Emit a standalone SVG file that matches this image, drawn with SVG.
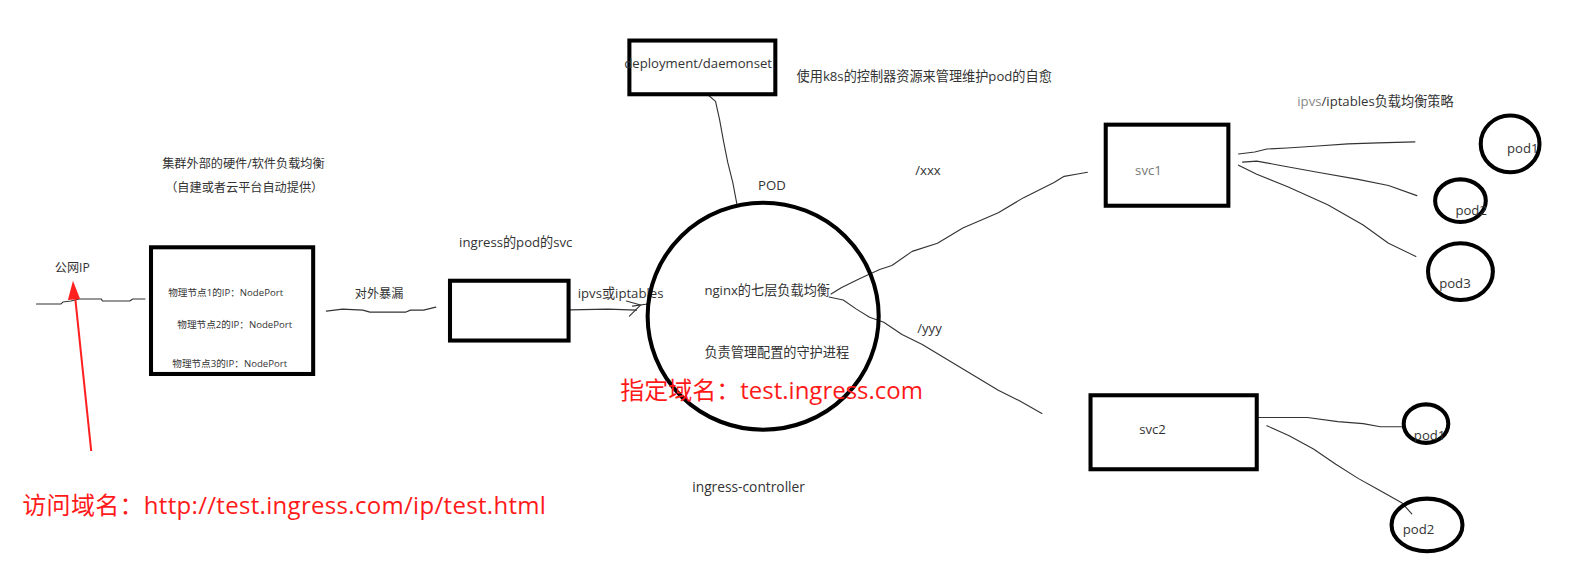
<svg xmlns="http://www.w3.org/2000/svg" width="1587" height="583" viewBox="0 0 1587 583">
<defs>
<style>
text{font-family:"Open Sans","Noto Sans CJK SC",sans-serif;fill:#333;}
.t13{font-size:13px;}
.t12{font-size:12px;}
.t10{font-size:9.5px;}
.red{font-size:23.7px;fill:#ff1a1a;}
.box{fill:#fff;stroke:#000;stroke-width:4;}
.ell{fill:none;stroke:#000;stroke-width:4;}
.ln{fill:none;stroke:#333;stroke-width:1.1;stroke-linejoin:round;stroke-linecap:round;}
.gray{fill:#777;}
</style>
</defs>
<rect width="1587" height="583" fill="#fff"/>
<g transform="scale(1.0135)">

<g id="connectors">
<polyline class="ln" points="36,300 60,300 62,298 70,297 78,295 100,295 101,297 128,297 131,295 143,295"/>
<polyline class="ln" points="322,307 338,305 358,306 365,308 400,308 405,306 418,306 430,303"/>
<polyline class="ln" points="550,306 600,305 628,306"/>
<polyline class="ln" points="618,297 632,301 621,312"/>
<polyline class="ln" points="624,302 639,300"/>
<polyline class="ln" points="699,94 706,100 710,118 714,140 718,160 723,180 727,201"/>
<polyline class="ln" points="820,290 830,284 848,275 868,266 880,262 900,248 925,240 950,225 985,210 1010,195 1040,180 1050,174 1062,172 1073,170"/>
<polyline class="ln" points="818,293 832,296 845,305 858,313 872,318 890,330 910,340 935,355 960,370 985,385 1005,395 1028,408"/>
<polyline class="ln" points="1222,152 1238,150 1250,147 1270,146 1300,144 1330,142 1360,141 1396,140"/>
<polyline class="ln" points="1226,160 1240,159 1262,163 1300,170 1340,177 1370,183 1398,193"/>
<polyline class="ln" points="1222,163 1240,172 1270,184 1310,202 1345,222 1370,240 1397,253"/>
<polyline class="ln" points="1242,412 1290,412 1320,416 1345,418 1362,421 1385,421"/>
<polyline class="ln" points="1250,420 1272,430 1296,443 1318,458 1340,472 1358,482 1383,496 1393,507"/>
<line x1="90" y1="445" x2="74" y2="292" stroke="#ff2020" stroke-width="2"/>
<polygon points="72,277 67,296 79,295" fill="#ff2020"/>
</g>

<g id="public-ip">
<text class="t12" x="54" y="268">公网IP</text>
</g>

<g id="external-lb-label">
<text class="t12" x="160" y="166">集群外部的硬件/软件负载均衡</text>
<text class="t12" x="163" y="189">（自建或者云平台自动提供）</text>
</g>

<g id="nodes-box">
<rect class="box" x="149" y="244" width="160" height="125"/>
<text class="t10" x="166" y="292">物理节点1的IP：NodePort</text>
<text class="t10" x="175" y="324">物理节点2的IP：NodePort</text>
<text class="t10" x="170" y="362">物理节点3的IP：NodePort</text>
</g>

<g id="expose-label">
<text class="t12" x="350" y="294">对外暴漏</text>
</g>

<g id="ingress-svc">
<text class="t13" x="453" y="244">ingress的pod的svc</text>
<rect class="box" x="444" y="277" width="117" height="59"/>
</g>

<g id="ipvs-label">
<text class="t13" x="570" y="294">ipvs或iptables</text>
</g>

<g id="deployment">
<rect class="box" x="621" y="40" width="144" height="53"/>
<text class="t13" x="616" y="67">deployment/daemonset</text>
<text class="t13" x="786" y="80">使用k8s的控制器资源来管理维护pod的自愈</text>
</g>

<g id="pod-ingress-controller">
<text class="t13" x="748" y="187">POD</text>
<ellipse class="ell" cx="753" cy="312" rx="114" ry="112"/>
<text class="t13" x="695" y="291">nginx的七层负载均衡</text>
<text class="t13" x="695" y="352">负责管理配置的守护进程</text>
<text class="red" x="612" y="394">指定域名：test.ingress.com</text>
<text x="683" y="485" style="font-size:13.6px">ingress-controller</text>
</g>

<g id="path-labels">
<text class="t13" x="903" y="173">/xxx</text>
<text class="t13" x="905" y="329">/yyy</text>
</g>

<g id="svc1">
<rect class="box" x="1091" y="123" width="121" height="80"/>
<text class="t13 gray" x="1120" y="173">svc1</text>
</g>

<g id="strategy-label">
<text class="t13" x="1280" y="105"><tspan fill="#888">ipvs</tspan>/iptables负载均衡策略</text>
</g>

<g id="svc1-pod1">
<ellipse class="ell" cx="1490" cy="142" rx="29" ry="28"/>
<text class="t13" x="1487" y="151">pod1</text>
</g>
<g id="svc1-pod2">
<ellipse class="ell" cx="1441" cy="198" rx="25" ry="21"/>
<text class="t13" x="1436" y="212">pod2</text>
</g>
<g id="svc1-pod3">
<ellipse class="ell" cx="1441" cy="268" rx="32" ry="28"/>
<text class="t13" x="1420" y="284">pod3</text>
</g>

<g id="svc2">
<rect class="box" x="1076" y="390" width="164" height="73"/>
<text class="t13" x="1124" y="428">svc2</text>
</g>
<g id="svc2-pod1">
<ellipse class="ell" cx="1407" cy="418" rx="22" ry="19"/>
<text class="t13" x="1395" y="434">pod1</text>
</g>
<g id="svc2-pod2">
<ellipse class="ell" cx="1408" cy="518" rx="35" ry="26"/>
<text class="t13" x="1384" y="527">pod2</text>
</g>

<g id="access-label">
<text class="red" x="22" y="507" letter-spacing="0.3">访问域名：http://test.ingress.com/ip/test.html</text>
</g>
</g>
</svg>
